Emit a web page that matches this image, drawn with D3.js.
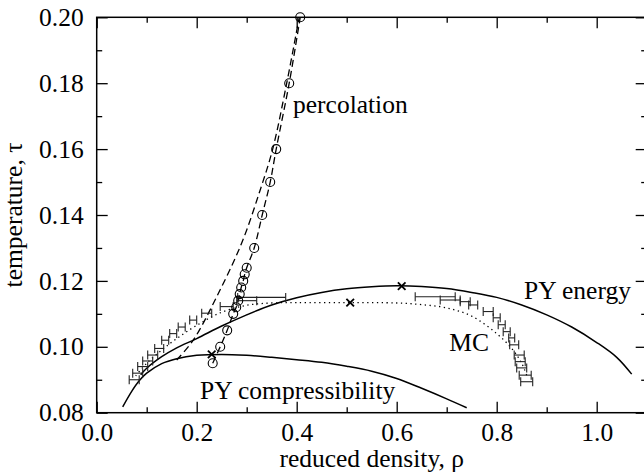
<!DOCTYPE html>
<html><head><meta charset="utf-8">
<script src="https://cdn.jsdelivr.net/npm/d3@7"></script>
<style>body{margin:0;background:#fff}svg{display:block}</style>
</head><body><svg id="c" width="644" height="476" font-family="Liberation Serif"></svg>
<script>
// ---- data ----
const xMajor = [0.0, 0.2, 0.4, 0.6, 0.8, 1.0];
const xMinor = [0.1, 0.3, 0.5, 0.7, 0.9, 1.1];
const yMajor = [0.08, 0.10, 0.12, 0.14, 0.16, 0.18, 0.20];
const yMinor = [0.09, 0.11, 0.13, 0.15, 0.17, 0.19];

const pyEnergyRho = [0.088,0.10,0.13,0.16,0.20,0.25,0.30,0.35,0.40,0.45,0.50,0.55,0.60,0.65,0.70,0.75,0.80,0.85,0.90,0.95,1.00,1.04,1.07];
const pyEnergyTau = [0.0915,0.0935,0.0970,0.0997,0.1025,0.1063,0.1097,0.1127,0.1149,0.1165,0.1176,0.1182,0.1185,0.1183,0.1177,0.1165,0.1150,0.1127,0.1097,0.1060,0.1013,0.0968,0.0917];

const pyCompRho = [0.052,0.07,0.085,0.10,0.13,0.16,0.20,0.25,0.30,0.35,0.40,0.45,0.50,0.55,0.60,0.65,0.70,0.74];
const pyCompTau = [0.0818,0.0865,0.0897,0.0920,0.0949,0.0964,0.0974,0.0977,0.0974,0.0968,0.0961,0.0953,0.0941,0.0926,0.0904,0.0874,0.0842,0.0815];

const mcFitRho = [0.078,0.10,0.13,0.16,0.20,0.25,0.30,0.35,0.40,0.50,0.60,0.65,0.70,0.75,0.80,0.83,0.85,0.862];
const mcFitTau = [0.0912,0.0950,0.0990,0.1025,0.1065,0.1105,0.1126,0.1133,0.1134,0.1134,0.1133,0.1128,0.1118,0.1093,0.1040,0.0995,0.0950,0.0905];

const percLineRho = [0.160,0.193,0.240,0.290,0.327,0.352,0.380,0.405];
const percLineTau = [0.0960,0.1020,0.1152,0.1315,0.1476,0.1600,0.1800,0.2000];

const percRho = [0.232,0.247,0.261,0.273,0.279,0.283,0.286,0.289,0.293,0.296,0.300,0.315,0.331,0.347,0.359,0.385,0.407];
const percTau = [0.095,0.100,0.105,0.110,0.112,0.114,0.116,0.118,0.120,0.122,0.124,0.130,0.140,0.150,0.160,0.180,0.200];

const crossRho = [0.230, 0.507, 0.610];
const crossTau = [0.0977, 0.1134, 0.1184];

const mcRho = [0.075,0.082,0.092,0.102,0.112,0.125,0.137,0.153,0.170,0.193,0.220,0.260,0.300,0.330,
               0.677,0.707,0.737,0.753,0.783,0.800,0.810,0.820,0.830,0.835,0.845,0.847,0.850,0.857,0.860];
const mcTau = [0.0900,0.0920,0.0940,0.0957,0.0975,0.0995,0.1020,0.1040,0.1060,0.1081,0.1102,0.1122,0.1140,0.1150,
               0.1152,0.1142,0.1137,0.1127,0.1107,0.1088,0.1067,0.1046,0.1027,0.1006,0.0975,0.0955,0.0936,0.0914,0.0894];
const mcErr = [0.010,0.010,0.010,0.010,0.010,0.009,0.007,0.007,0.007,0.007,0.010,0.013,0.020,0.048,
               0.040,0.020,0.010,0.009,0.010,0.007,0.007,0.007,0.006,0.009,0.010,0.010,0.010,0.012,0.012];

const labelText = ["percolation", "PY energy", "MC", "PY compressibility"];
const labelRho  = [0.3926, 0.8546, 0.7052, 0.2066];
const labelTau  = [0.1710, 0.1144, 0.0987, 0.0841];

// ---- drawing ----
const svg = d3.select("#c");
const L = 96.7, R = 646.7, T = 17.3, B = 412.7;
const x = d3.scaleLinear().domain([0, 1.1]).range([L, R]);
const y = d3.scaleLinear().domain([0.08, 0.20]).range([B, T]);
const FS = "25.5px";
const FONT = '"Liberation Serif"';

const zip = (a, b) => a.map((v, i) => [v, b[i]]);
const line = d3.line().x(d => x(d[0])).y(d => y(d[1])).curve(d3.curveCatmullRom);

function axisG(tr, ax, labelled) {
  const g = svg.append("g").attr("transform", tr).call(ax);
  g.attr("font-family", null).attr("font-size", null);
  g.select(".domain").remove();
  g.selectAll("line").attr("stroke","#000").attr("stroke-width",1.3);
  g.selectAll("text").style("font-family",FONT).style("font-size",FS).attr("fill","#000");
  return g;
}
axisG(`translate(0,${B})`, d3.axisBottom(x).tickValues(xMajor).tickSize(-11).tickPadding(10).tickFormat(d3.format(".1f")));
axisG(`translate(0,${B})`, d3.axisBottom(x).tickValues(xMinor).tickSize(-5.5).tickFormat(""));
axisG(`translate(0,${T})`, d3.axisTop(x).tickValues(xMajor).tickSize(-11).tickFormat(""));
axisG(`translate(0,${T})`, d3.axisTop(x).tickValues(xMinor).tickSize(-5.5).tickFormat(""));
axisG(`translate(${L},0)`, d3.axisLeft(y).tickValues(yMajor).tickSize(-11).tickPadding(13).tickFormat(d3.format(".2f")));
axisG(`translate(${L},0)`, d3.axisLeft(y).tickValues(yMinor).tickSize(-5.5).tickFormat(""));
axisG(`translate(${R},0)`, d3.axisRight(y).tickValues(yMajor).tickSize(-11).tickFormat(""));
axisG(`translate(${R},0)`, d3.axisRight(y).tickValues(yMinor).tickSize(-5.5).tickFormat(""));

svg.append("rect").attr("x",L).attr("y",T).attr("width",R-L).attr("height",B-T).attr("fill","none").attr("stroke","#000").attr("stroke-width",1.5);

svg.append("path").attr("d", line(zip(pyEnergyRho, pyEnergyTau))).attr("fill","none").attr("stroke","#000").attr("stroke-width",1.5);
svg.append("path").attr("d", line(zip(pyCompRho, pyCompTau))).attr("fill","none").attr("stroke","#000").attr("stroke-width",1.5);
svg.append("path").attr("d", line(zip(mcFitRho, mcFitTau))).attr("fill","none").attr("stroke","#000").attr("stroke-width",1.3).attr("stroke-dasharray","1.3,3.5");
svg.append("path").attr("d", line(zip(percLineRho, percLineTau))).attr("fill","none").attr("stroke","#000").attr("stroke-width",1.3).attr("stroke-dasharray","7,4");
svg.append("path").attr("d", line(zip(percRho, percTau))).attr("fill","none").attr("stroke","#000").attr("stroke-width",1.3).attr("stroke-dasharray","7,4");

// error bars
const eb = svg.append("g").attr("stroke","#222").attr("stroke-width",1.1).attr("fill","none");
mcRho.forEach((r, i) => {
  const yy = y(mcTau[i]), x0 = x(r - mcErr[i]), x1 = x(r + mcErr[i]);
  eb.append("line").attr("x1",x0).attr("x2",x1).attr("y1",yy).attr("y2",yy);
  eb.append("line").attr("x1",x0).attr("x2",x0).attr("y1",yy-4.5).attr("y2",yy+4.5);
  eb.append("line").attr("x1",x1).attr("x2",x1).attr("y1",yy-4.5).attr("y2",yy+4.5);
});

// circles
svg.append("g").selectAll("circle").data(zip(percRho, percTau)).join("circle")
  .attr("cx", d => x(d[0])).attr("cy", d => y(d[1])).attr("r", 4.5)
  .attr("fill","none").attr("stroke","#000").attr("stroke-width",1.1);

// crosses
const cg = svg.append("g").attr("stroke","#000").attr("stroke-width",1.8);
zip(crossRho, crossTau).forEach(d => {
  const cx = x(d[0]), cy = y(d[1]), s = 3.8;
  cg.append("line").attr("x1",cx-s).attr("y1",cy-s).attr("x2",cx+s).attr("y2",cy+s);
  cg.append("line").attr("x1",cx-s).attr("y1",cy+s).attr("x2",cx+s).attr("y2",cy-s);
});

// labels
labelText.forEach((t, i) => svg.append("text").attr("x", x(labelRho[i])).attr("y", y(labelTau[i]))
  .style("font-family",FONT).style("font-size",FS).text(t));

svg.append("text").attr("x",(L+R)/2).attr("y",467).attr("text-anchor","middle")
  .style("font-family",FONT).style("font-size",FS).text("reduced density, ρ");
svg.append("text").attr("transform",`translate(22,${(T+B)/2}) rotate(-90)`).attr("text-anchor","middle")
  .style("font-family",FONT).style("font-size",FS).text("temperature, τ");
</script></body></html>
